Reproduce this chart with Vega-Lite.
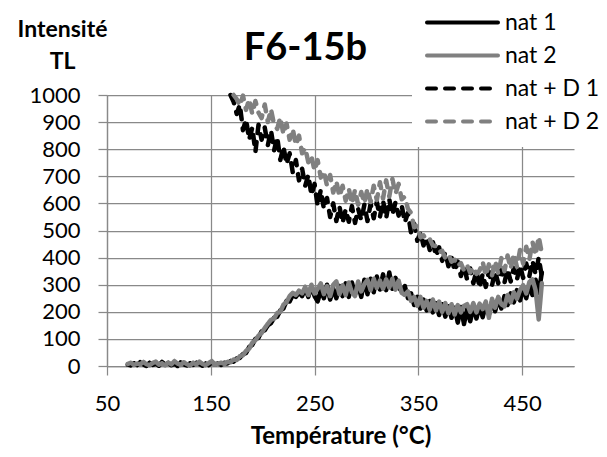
{
"$schema": "https://vega.github.io/schema/vega-lite/v6.json",
"width": 467, "height": 271,
"autosize": {"type": "none"},
"padding": {"left": 107, "top": 95, "right": 33, "bottom": 91},
"background": "white",
"config": {"view": {"stroke": null}, "font": "Lato"},
"title": {"text": "F6-15b", "frame": "group", "anchor": "middle", "dx": -35, "offset": 0, "dy": 101, "baseline": "alphabetic", "fontSize": 38, "fontWeight": "bold", "font": "Lato", "color": "black"},
"data": {"values": [
{"T":70,"nat 1":5,"nat 2":8},{"T":73,"nat 1":2,"nat 2":12},{"T":76,"nat 1":10,"nat 2":4},{"T":79,"nat 1":3,"nat 2":9},
{"T":82,"nat 1":14,"nat 2":6},{"T":85,"nat 1":6,"nat 2":15},{"T":88,"nat 1":0,"nat 2":7},{"T":91,"nat 1":12,"nat 2":3},
{"T":94,"nat 1":4,"nat 2":11},{"T":97,"nat 1":9,"nat 2":16},{"T":100,"nat 1":1,"nat 2":5},{"T":103,"nat 1":15,"nat 2":10},
{"T":106,"nat 1":5,"nat 2":2},{"T":109,"nat 1":11,"nat 2":13},{"T":112,"nat 1":3,"nat 2":6},{"T":115,"nat 1":8,"nat 2":18},
{"T":118,"nat 1":0,"nat 2":9},{"T":121,"nat 1":13,"nat 2":4},{"T":124,"nat 1":6,"nat 2":14},{"T":127,"nat 1":2,"nat 2":7},
{"T":130,"nat 1":10,"nat 2":1},{"T":133,"nat 1":4,"nat 2":12},{"T":136,"nat 1":12,"nat 2":6},{"T":139,"nat 1":7,"nat 2":16},
{"T":142,"nat 1":1,"nat 2":8},{"T":145,"nat 1":9,"nat 2":3},{"T":148,"nat 1":3,"nat 2":11},{"T":151,"nat 1":14,"nat 2":18},
{"T":154,"nat 1":6,"nat 2":5},{"T":157,"nat 1":10,"nat 2":9},{"T":160,"nat 1":4,"nat 2":12},{"T":163,"nat 1":12,"nat 2":8},
{"T":166,"nat 1":9,"nat 2":15},
{"T":169,"nat 1":18,"nat 2":14,"nat + D 1":1000},
{"T":172,"nat 1":16,"nat 2":24,"nat + D 1":975,"nat + D 2":1000},
{"T":175,"nat 1":28,"nat 2":22,"nat + D 1":930,"nat + D 2":985},
{"T":178,"nat 1":30,"nat 2":36,"nat + D 1":965,"nat + D 2":960},
{"T":181,"nat 1":44,"nat 2":40,"nat + D 1":870,"nat + D 2":998},
{"T":184,"nat 1":48,"nat 2":56,"nat + D 1":910,"nat + D 2":945},
{"T":187,"nat 1":70,"nat 2":64,"nat + D 1":835,"nat + D 2":985},
{"T":190,"nat 1":78,"nat 2":86,"nat + D 1":880,"nat + D 2":930},
{"T":193,"nat 1":100,"nat 2":95,"nat + D 1":790,"nat + D 2":978},
{"T":196,"nat 1":104,"nat 2":112,"nat + D 1":890,"nat + D 2":935},
{"T":199,"nat 1":128,"nat 2":122,"nat + D 1":835,"nat + D 2":915},
{"T":202,"nat 1":132,"nat 2":140,"nat + D 1":880,"nat + D 2":965},
{"T":205,"nat 1":150,"nat 2":156,"nat + D 1":815,"nat + D 2":900},
{"T":208,"nat 1":158,"nat 2":170,"nat + D 1":870,"nat + D 2":948},
{"T":211,"nat 1":178,"nat 2":175,"nat + D 1":795,"nat + D 2":890},
{"T":214,"nat 1":182,"nat 2":195,"nat + D 1":845,"nat + D 2":875},
{"T":217,"nat 1":205,"nat 2":200,"nat + D 1":760,"nat + D 2":918},
{"T":220,"nat 1":212,"nat 2":226,"nat + D 1":810,"nat + D 2":855},
{"T":223,"nat 1":240,"nat 2":236,"nat + D 1":745,"nat + D 2":895},
{"T":226,"nat 1":238,"nat 2":258,"nat + D 1":785,"nat + D 2":835},
{"T":229,"nat 1":262,"nat 2":270,"nat + D 1":715,"nat + D 2":875},
{"T":232,"nat 1":255,"nat 2":262,"nat + D 1":760,"nat + D 2":815},
{"T":235,"nat 1":270,"nat 2":278,"nat + D 1":685,"nat + D 2":850},
{"T":238,"nat 1":258,"nat 2":268,"nat + D 1":728,"nat + D 2":785},
{"T":241,"nat 1":285,"nat 2":292,"nat + D 1":665,"nat + D 2":805},
{"T":244,"nat 1":255,"nat 2":262,"nat + D 1":705,"nat + D 2":752},
{"T":247,"nat 1":295,"nat 2":300,"nat + D 1":630,"nat + D 2":775},
{"T":250,"nat 1":258,"nat 2":268,"nat + D 1":672,"nat + D 2":720},
{"T":253,"nat 1":238,"nat 2":285,"nat + D 1":590,"nat + D 2":760},
{"T":256,"nat 1":280,"nat 2":305,"nat + D 1":650,"nat + D 2":695},
{"T":259,"nat 1":250,"nat 2":265,"nat + D 1":580,"nat + D 2":720},
{"T":262,"nat 1":300,"nat 2":295,"nat + D 1":620,"nat + D 2":665},
{"T":265,"nat 1":245,"nat 2":258,"nat + D 1":550,"nat + D 2":705},
{"T":268,"nat 1":285,"nat 2":300,"nat + D 1":600,"nat + D 2":640},
{"T":271,"nat 1":250,"nat 2":312,"nat + D 1":535,"nat + D 2":682},
{"T":274,"nat 1":295,"nat 2":265,"nat + D 1":588,"nat + D 2":625},
{"T":277,"nat 1":258,"nat 2":298,"nat + D 1":528,"nat + D 2":665},
{"T":280,"nat 1":305,"nat 2":262,"nat + D 1":578,"nat + D 2":610},
{"T":283,"nat 1":255,"nat 2":308,"nat + D 1":532,"nat + D 2":655},
{"T":286,"nat 1":308,"nat 2":272,"nat + D 1":590,"nat + D 2":598},
{"T":289,"nat 1":265,"nat 2":258,"nat + D 1":528,"nat + D 2":650},
{"T":292,"nat 1":300,"nat 2":312,"nat + D 1":580,"nat + D 2":595},
{"T":295,"nat 1":255,"nat 2":275,"nat + D 1":538,"nat + D 2":642},
{"T":298,"nat 1":318,"nat 2":302,"nat + D 1":595,"nat + D 2":600},
{"T":301,"nat 1":265,"nat 2":318,"nat + D 1":535,"nat + D 2":655},
{"T":304,"nat 1":322,"nat 2":280,"nat + D 1":598,"nat + D 2":605},
{"T":307,"nat 1":272,"nat 2":322,"nat + D 1":545,"nat + D 2":665},
{"T":310,"nat 1":330,"nat 2":288,"nat + D 1":605,"nat + D 2":612},
{"T":313,"nat 1":282,"nat 2":315,"nat + D 1":550,"nat + D 2":678},
{"T":316,"nat 1":338,"nat 2":285,"nat + D 1":610,"nat + D 2":618},
{"T":319,"nat 1":280,"nat 2":320,"nat + D 1":545,"nat + D 2":685},
{"T":322,"nat 1":345,"nat 2":290,"nat + D 1":615,"nat + D 2":625},
{"T":325,"nat 1":285,"nat 2":322,"nat + D 1":558,"nat + D 2":690},
{"T":328,"nat 1":325,"nat 2":282,"nat + D 1":605,"nat + D 2":635},
{"T":331,"nat 1":290,"nat 2":315,"nat + D 1":555,"nat + D 2":672},
{"T":334,"nat 1":275,"nat 2":270,"nat + D 1":592,"nat + D 2":615},
{"T":337,"nat 1":295,"nat 2":262,"nat + D 1":530,"nat + D 2":625},
{"T":340,"nat 1":250,"nat 2":275,"nat + D 1":565,"nat + D 2":580},
{"T":343,"nat 1":268,"nat 2":240,"nat + D 1":490,"nat + D 2":565},
{"T":346,"nat 1":225,"nat 2":255,"nat + D 1":525,"nat + D 2":512},
{"T":349,"nat 1":255,"nat 2":222,"nat + D 1":462,"nat + D 2":518},
{"T":352,"nat 1":212,"nat 2":255,"nat + D 1":492,"nat + D 2":475},
{"T":355,"nat 1":245,"nat 2":215,"nat + D 1":445,"nat + D 2":482},
{"T":358,"nat 1":205,"nat 2":240,"nat + D 1":475,"nat + D 2":462},
{"T":361,"nat 1":240,"nat 2":208,"nat + D 1":428,"nat + D 2":468},
{"T":364,"nat 1":198,"nat 2":245,"nat + D 1":458,"nat + D 2":445},
{"T":367,"nat 1":232,"nat 2":205,"nat + D 1":405,"nat + D 2":442},
{"T":370,"nat 1":188,"nat 2":238,"nat + D 1":438,"nat + D 2":420},
{"T":373,"nat 1":228,"nat 2":200,"nat + D 1":388,"nat + D 2":425},
{"T":376,"nat 1":182,"nat 2":232,"nat + D 1":420,"nat + D 2":398},
{"T":379,"nat 1":220,"nat 2":195,"nat + D 1":368,"nat + D 2":412},
{"T":382,"nat 1":178,"nat 2":228,"nat + D 1":402,"nat + D 2":385},
{"T":385,"nat 1":215,"nat 2":190,"nat + D 1":350,"nat + D 2":392},
{"T":388,"nat 1":160,"nat 2":225,"nat + D 1":385,"nat + D 2":368},
{"T":391,"nat 1":218,"nat 2":198,"nat + D 1":332,"nat + D 2":380},
{"T":394,"nat 1":155,"nat 2":222,"nat + D 1":372,"nat + D 2":352},
{"T":397,"nat 1":210,"nat 2":228,"nat + D 1":318,"nat + D 2":372},
{"T":400,"nat 1":165,"nat 2":200,"nat + D 1":360,"nat + D 2":345},
{"T":403,"nat 1":218,"nat 2":232,"nat + D 1":305,"nat + D 2":365},
{"T":406,"nat 1":175,"nat 2":198,"nat + D 1":352,"nat + D 2":340},
{"T":409,"nat 1":222,"nat 2":230,"nat + D 1":288,"nat + D 2":352},
{"T":412,"nat 1":180,"nat 2":210,"nat + D 1":340,"nat + D 2":385},
{"T":415,"nat 1":228,"nat 2":238,"nat + D 1":292,"nat + D 2":332},
{"T":418,"nat 1":190,"nat 2":178,"nat + D 1":348,"nat + D 2":375},
{"T":421,"nat 1":238,"nat 2":248,"nat + D 1":298,"nat + D 2":335},
{"T":424,"nat 1":202,"nat 2":215,"nat + D 1":350,"nat + D 2":388},
{"T":427,"nat 1":250,"nat 2":255,"nat + D 1":305,"nat + D 2":340},
{"T":430,"nat 1":212,"nat 2":228,"nat + D 1":355,"nat + D 2":398},
{"T":433,"nat 1":258,"nat 2":220,"nat + D 1":308,"nat + D 2":350},
{"T":436,"nat 1":225,"nat 2":262,"nat + D 1":358,"nat + D 2":408},
{"T":439,"nat 1":268,"nat 2":235,"nat + D 1":312,"nat + D 2":358},
{"T":442,"nat 1":235,"nat 2":272,"nat + D 1":362,"nat + D 2":415},
{"T":445,"nat 1":280,"nat 2":248,"nat + D 1":318,"nat + D 2":365},
{"T":448,"nat 1":242,"nat 2":280,"nat + D 1":372,"nat + D 2":428},
{"T":451,"nat 1":290,"nat 2":298,"nat + D 1":325,"nat + D 2":378},
{"T":454,"nat 1":250,"nat 2":268,"nat + D 1":378,"nat + D 2":440},
{"T":457,"nat 1":300,"nat 2":310,"nat + D 1":332,"nat + D 2":392},
{"T":460,"nat 1":262,"nat 2":320,"nat + D 1":388,"nat + D 2":458},
{"T":463,"nat 1":318,"nat 2":280,"nat + D 1":338,"nat + D 2":408},
{"T":466,"nat 1":270,"nat 2":172,"nat + D 1":400,"nat + D 2":478},
{"T":469,"nat 1":345,"nat 2":305,"nat + D 1":330,"nat + D 2":415}
]},
"transform": [
{"fold": ["nat 1", "nat 2", "nat + D 1", "nat + D 2"], "as": ["series", "v"]},
{"filter": "isValid(datum.v)"}
],
"mark": {"type": "line", "strokeWidth": 4.5, "strokeCap": "round", "strokeJoin": "round"},
"encoding": {
"x": {"field": "T", "type": "quantitative",
 "scale": {"domain": [50, 500], "nice": false, "zero": false},
 "axis": {"values": [50, 150, 250, 350, 450], "title": "Température (°C)", "titleY": 77, "titleBaseline": "alphabetic",
  "titleFont": "Lato", "titleFontSize": 24, "titleFontWeight": "bold", "titleColor": "black",
  "labelFont": "Lato", "labelFontSize": 22, "labelColor": "black", "labelPadding": 18,
  "tickSize": 9, "tickColor": "#898989", "tickWidth": 1.25, "domainColor": "#898989", "domainWidth": 1.25,
  "grid": true, "gridColor": "#898989", "gridWidth": 1.25, "labelFlush": false}},
"y": {"field": "v", "type": "quantitative",
 "scale": {"domain": [0, 1000], "nice": false},
 "axis": {"values": [0, 100, 200, 300, 400, 500, 600, 700, 800, 900, 1000], "format": "d", "title": ["Intensité", "TL"],
  "titleAngle": 0, "titleAlign": "center", "titleBaseline": "alphabetic", "titleX": -45, "titleY": -59, "titleLineHeight": 32,
  "titleFont": "Lato", "titleFontSize": 23, "titleFontWeight": "bold", "titleColor": "black",
  "labelFont": "Lato", "labelFontSize": 22, "labelColor": "black", "labelPadding": 18,
  "tickSize": 9, "tickColor": "#898989", "tickWidth": 1.25, "domainColor": "#898989", "domainWidth": 1.25,
  "grid": true, "gridColor": "#898989", "gridWidth": 1.25, "labelFlush": false}},
"color": {"field": "series", "type": "nominal",
 "scale": {"domain": ["nat 1", "nat 2", "nat + D 1", "nat + D 2"], "range": ["#000000", "#808080", "#000000", "#808080"]},
 "legend": {"title": null, "orient": "none", "legendX": 305, "legendY": -98, "fillColor": "white", "padding": 13,
  "symbolType": "stroke", "symbolSize": 5041, "clipHeight": 25, "symbolStrokeWidth": 4, "rowPadding": 8,
  "labelFont": "Lato", "labelFontSize": 23, "labelColor": "black", "labelOffset": 5,
  "encode": {"symbols": {"update": {"strokeCap": {"value": "round"}}}}}},
"strokeDash": {"field": "series", "type": "nominal",
 "scale": {"domain": ["nat 1", "nat 2", "nat + D 1", "nat + D 2"], "range": [[1, 0], [1, 0], [9, 9], [9, 9]]},
 "legend": {"title": null, "orient": "none", "legendX": 305, "legendY": -98, "fillColor": "white", "padding": 13,
  "symbolType": "stroke", "symbolSize": 5041, "clipHeight": 25, "symbolStrokeWidth": 4, "rowPadding": 8,
  "labelFont": "Lato", "labelFontSize": 23, "labelColor": "black", "labelOffset": 5,
  "encode": {"symbols": {"update": {"strokeCap": {"value": "round"}}}}}}
}
}
